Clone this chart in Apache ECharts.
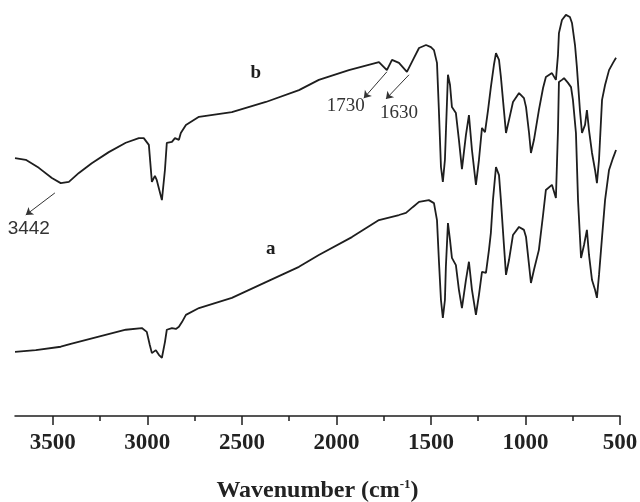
<!DOCTYPE html>
<html>
<head>
<meta charset="utf-8">
<script src="https://cdn.jsdelivr.net/npm/echarts@6/dist/echarts.min.js"></script>
<style>
  html, body { margin: 0; padding: 0; background: #fff; }
  #chart { width: 640px; height: 502px; }
</style>
</head>
<body>
<div id="chart"></div>
<script>
// wavenumber (cm-1) and transmittance (arb.)
var waveB = [3700, 3643, 3574, 3505, 3458, 3415, 3362, 3294, 3204, 3114, 3045, 3019, 2992, 2976, 2960, 2950, 2923, 2907, 2897, 2870, 2854, 2844, 2833, 2823, 2796, 2727, 2553, 2373, 2198, 2093, 1934, 1775, 1733, 1706, 1669, 1627, 1595, 1563, 1526, 1500, 1484, 1468, 1458, 1447, 1437, 1426, 1421, 1410, 1399, 1389, 1368, 1352, 1336, 1315, 1299, 1283, 1262, 1246, 1230, 1214, 1198, 1183, 1167, 1156, 1140, 1130, 1114, 1103, 1087, 1066, 1034, 1008, 997, 981, 971, 955, 929, 907, 892, 860, 839, 828, 823, 807, 786, 765, 754, 738, 728, 712, 701, 685, 675, 664, 648, 632, 622, 611, 595, 579, 558, 537, 521];
var transB = [62.8, 62.4, 60.5, 58.1, 56.9, 57.2, 59.3, 61.6, 64.2, 66.4, 67.5, 67.5, 65.9, 57.2, 58.6, 57.6, 52.9, 60.0, 66.4, 66.6, 67.5, 67.8, 67.1, 68.7, 70.6, 72.5, 73.6, 76.0, 78.8, 81.2, 83.5, 85.4, 83.5, 85.9, 85.2, 83.1, 85.9, 88.7, 89.4, 88.9, 88.2, 85.2, 74.1, 60.7, 57.2, 62.4, 68.7, 82.4, 80.0, 74.8, 73.4, 67.1, 60.2, 68.2, 72.9, 64.7, 56.5, 62.4, 69.9, 68.9, 74.1, 79.5, 84.7, 87.5, 85.9, 81.9, 74.1, 68.7, 71.8, 76.0, 78.1, 76.9, 74.8, 68.7, 64.0, 67.1, 74.1, 79.3, 81.9, 82.8, 81.2, 87.1, 92.2, 95.3, 96.5, 96.0, 94.6, 89.4, 84.2, 74.1, 68.7, 70.6, 74.1, 69.4, 64.0, 60.0, 56.9, 62.4, 76.5, 80.0, 83.5, 85.2, 86.4];

var waveA = [3700, 3590, 3458, 3405, 3257, 3114, 3029, 3003, 2987, 2976, 2955, 2939, 2923, 2907, 2897, 2870, 2849, 2833, 2817, 2796, 2727, 2553, 2373, 2198, 2093, 1918, 1775, 1669, 1632, 1595, 1563, 1511, 1484, 1468, 1458, 1447, 1437, 1426, 1421, 1410, 1399, 1389, 1368, 1352, 1336, 1315, 1299, 1283, 1262, 1246, 1230, 1209, 1193, 1183, 1172, 1156, 1140, 1130, 1114, 1103, 1087, 1066, 1034, 1008, 997, 981, 971, 955, 929, 907, 892, 860, 839, 828, 823, 807, 796, 775, 759, 749, 733, 722, 706, 690, 675, 664, 648, 632, 622, 611, 595, 579, 558, 537, 521];
var transA = [17.2, 17.6, 18.4, 19.1, 20.8, 22.4, 22.8, 21.9, 18.8, 16.9, 17.6, 16.5, 15.8, 19.5, 22.4, 22.8, 22.6, 23.1, 24.2, 25.9, 27.5, 29.9, 33.6, 37.2, 40.0, 44.2, 48.2, 49.4, 49.9, 51.3, 52.5, 52.9, 52.2, 48.2, 38.8, 29.4, 25.2, 29.4, 37.2, 47.5, 43.5, 39.3, 37.6, 31.8, 27.5, 34.1, 38.4, 31.8, 25.9, 30.6, 36.0, 35.8, 41.2, 45.2, 52.9, 60.7, 58.8, 52.9, 42.4, 35.3, 38.8, 44.7, 46.6, 45.9, 44.2, 37.6, 33.4, 36.5, 41.2, 49.4, 55.3, 56.5, 53.4, 69.4, 80.7, 81.2, 81.6, 80.5, 79.5, 76.5, 68.7, 52.9, 39.3, 42.4, 45.9, 40.0, 34.1, 31.8, 29.9, 35.3, 44.2, 52.9, 60.0, 62.8, 64.7];

var majorTicks = [500, 1000, 1500, 2000, 2500, 3000, 3500];
var minorTicks = [750, 1250, 1750, 2250, 2750, 3250];

// peak labels: [text, wavenumber, transmittance]
var peakLabels = [['3442', 3627, 46.1], ['1730', 1950, 75.1], ['1630', 1669, 73.4]];
// arrows: [from wavenumber, from value, to wavenumber, to value]
var peakArrows = [[3489, 54.6, 3643, 49.4], [1733, 83.1, 1855, 76.9], [1616, 82.4, 1738, 76.7]];
// curve names placed next to each trace
var curveNames = [['b', 2426, 82.8], ['a', 2347, 41.4]];

function zip(xs, ys) {
    var out = [];
    for (var i = 0; i < xs.length; i++) out.push([xs[i], ys[i]]);
    return out;
}

var ink = '#1e1e1e';
var serif = 'Liberation Serif';

var labelPoints = peakLabels.map(function (p, i) {
    return {
        coord: [p[1], p[2]],
        label: {
            formatter: p[0],
            fontFamily: i === 0 ? 'Liberation Sans' : serif,
            fontSize: 19, color: '#333'
        }
    };
}).concat(curveNames.map(function (c) {
    return {
        coord: [c[1], c[2]],
        label: { formatter: c[0], fontFamily: serif, fontWeight: 'bold', fontSize: 19, color: ink }
    };
}));

var arrowLines = peakArrows.map(function (a) {
    return [{ coord: [a[0], a[1]] }, { coord: [a[2], a[3]] }];
});

var chart = echarts.init(document.getElementById('chart'), null, { renderer: 'canvas' });

chart.setOption({
    animation: false,
    backgroundColor: '#fff',
    grid: { left: 15, right: 20, top: 0, bottom: 86, containLabel: false, outerBoundsMode: 'none' },
    xAxis: [{
        type: 'value', min: 500, max: 3700, inverse: true, position: 'bottom',
        axisLine: { onZero: false, lineStyle: { color: ink, width: 1.5 } },
        axisTick: { customValues: majorTicks, length: 9, lineStyle: { color: ink, width: 1.5 } },
        axisLabel: {
            customValues: majorTicks, margin: 16,
            formatter: function (v) { return String(v); },
            fontFamily: serif, fontWeight: 'bold', fontSize: 23, color: '#222'
        },
        splitLine: { show: false },
        name: 'Wavenumber (cm{sup|-1})',
        nameLocation: 'middle', nameGap: 62,
        nameTextStyle: {
            fontFamily: serif, fontWeight: 'bold', fontSize: 24, color: '#222',
            rich: { sup: { fontFamily: serif, fontWeight: 'bold', fontSize: 13, padding: [0, 0, 12, 0] } }
        }
    }, {
        type: 'value', min: 500, max: 3700, inverse: true, position: 'bottom',
        axisLine: { show: false, onZero: false },
        axisTick: { customValues: minorTicks, length: 5, lineStyle: { color: ink, width: 1.5 } },
        axisLabel: { show: false },
        splitLine: { show: false }
    }],
    yAxis: { type: 'value', min: 2.1, max: 100, show: false, splitLine: { show: false } },
    series: [{
        name: 'b', type: 'line', data: zip(waveB, transB),
        showSymbol: false, silent: true,
        lineStyle: { color: ink, width: 1.8 },
        markPoint: {
            symbol: 'circle', symbolSize: 0, silent: true,
            label: { show: true, position: 'inside' },
            data: labelPoints
        },
        markLine: {
            silent: true, symbol: ['none', 'arrow'], symbolSize: 7,
            lineStyle: { color: '#333', width: 1, type: 'solid' },
            label: { show: false },
            data: arrowLines
        }
    }, {
        name: 'a', type: 'line', data: zip(waveA, transA),
        showSymbol: false, silent: true,
        lineStyle: { color: ink, width: 1.8 }
    }]
});
</script>
</body>
</html>
